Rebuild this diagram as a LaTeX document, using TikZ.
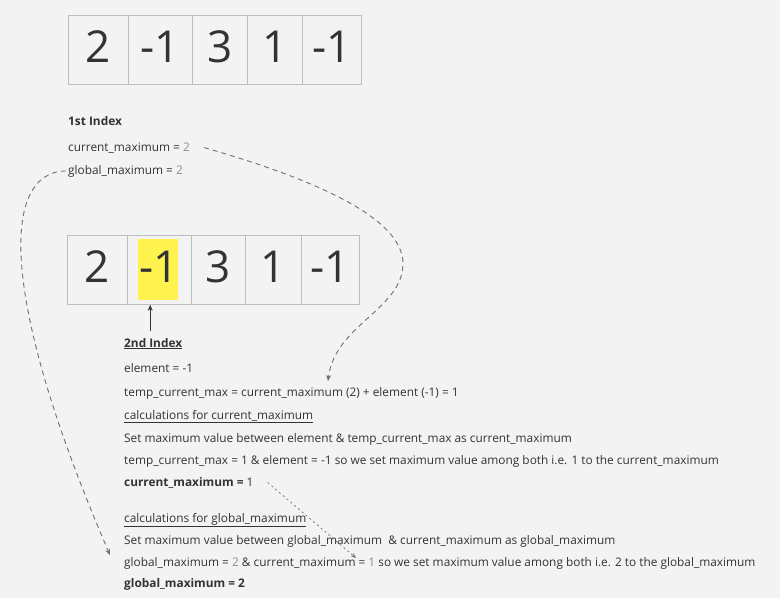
\documentclass[tikz,border=0pt]{standalone}
\usepackage{fontspec}
\setmainfont{Open Sans}
\usetikzlibrary{arrows.meta}
\definecolor{paper}{HTML}{F3F3F3}
\definecolor{cellline}{HTML}{BDBDBD}
\definecolor{bodytext}{HTML}{333333}
\definecolor{numgray}{HTML}{8C8C8C}
\definecolor{hilite}{HTML}{FFF350}
\definecolor{flowgray}{HTML}{707070}
\tikzset{
    cell/.style={draw=cellline, line width=0.8pt, minimum height=69pt, inner sep=0pt,
        anchor=north west, text depth=7pt, text=bodytext, font=\fontsize{44}{44}\selectfont},
    txt/.style={anchor=base west, inner sep=0pt, text=bodytext, font=\fontsize{11.85}{14}\selectfont},
    flow/.style={draw=flowgray, dash pattern=on 5pt off 4pt, line width=0.9pt, -{Stealth[length=6pt,width=5pt]}},
    flowfine/.style={draw=flowgray, dash pattern=on 2pt off 3pt, line width=0.7pt, -{Stealth[length=5pt,width=4pt]}},
    pointer/.style={draw=bodytext, line width=0.8pt, -{Stealth[length=6pt,width=5pt]}}
}
\begin{document}
\begin{tikzpicture}[x=1pt,y=-1pt]
    \fill[paper] (0,0) rectangle (780,598);
    \useasboundingbox (0,0) rectangle (780,598);
    % first array
    \foreach \x/\w/\v [count=\i] in {68/60/2, 128/64/-1, 192/55/3, 247/55/1, 302/59/-1}
    {
        \node[cell, minimum width=\w pt] (t\i) at (\x,15) {\v};
    }
    \node[txt] (idx1) at (68,125) {\textbf{1st Index}};
    \node[txt] (cm1) at (68,151) {current\_maximum = \textcolor{numgray}{2}};
    \node[txt] (gm1) at (68,174) {global\_maximum = \textcolor{numgray}{2}};
    % second array
    \fill[hilite] (138,239) rectangle (178,300);
    \foreach \x/\w/\v [count=\i] in {67/60/2, 127/64/-1, 191/54/3, 245/56/1, 301/58/-1}
    {
        \node[cell, minimum width=\w pt] (b\i) at (\x,235) {\v};
    }
    \node[txt] (idx2) at (124,347) {\textbf{\underline{2nd Index}}};
    \node[txt] (el) at (124,372) {element = -1};
    \node[txt] (tmp) at (124,396) {temp\_current\_max = current\_maximum (2) + element (-1) = 1};
    \node[txt] (calc1) at (124,419) {\underline{calculations for current\_maximum}};
    \node[txt] (set1) at (124,442) {Set maximum value between element \& temp\_current\_max as current\_maximum};
    \node[txt] (cmp1) at (124,464) {temp\_current\_max = 1 \& element = -1 so we set maximum value among both i.e. 1 to the current\_maximum};
    \node[txt] (cm2) at (124,486) {\textbf{current\_maximum =} 1};
    \node[txt] (calc2) at (124,522) {\underline{calculations for global\_maximum}};
    \node[txt] (set2) at (124,544) {Set maximum value between global\_maximum\ \ \& current\_maximum as global\_maximum};
    \node[txt] (cmp2) at (124,566) {global\_maximum = \textcolor{numgray}{2} \& current\_maximum = \textcolor{numgray}{1} so we set maximum value among both i.e. 2 to the global\_maximum};
    \node[txt] (gm2) at (124,587) {\textbf{global\_maximum = 2}};
    % connectors
    \coordinate (tcm) at (328,381);
    \coordinate (gmin) at (110,555);
    \coordinate (ccm) at (356,558);
    \draw[pointer] ([shift={(-3,-7)}]idx2.north) -- ([xshift=-3pt]idx2.north |- b2.south);
    \draw[flow] ([xshift=14pt]cm1.east) .. controls (300,175) and (405,215) .. (403,265)
        .. controls (401,310) and (335,325) .. (tcm);
    \draw[flow] ([xshift=-2pt]gm1.west) .. controls (0,172) and (0,300) .. (gmin);
    \draw[flowfine] ([xshift=14pt]cm2.east) -- (ccm);
\end{tikzpicture}
\end{document}
